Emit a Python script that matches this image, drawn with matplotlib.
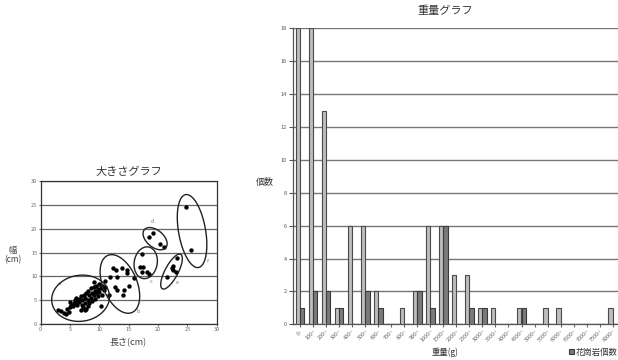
import numpy as np
import matplotlib
matplotlib.use("Agg")
import matplotlib.pyplot as plt
from matplotlib.patches import Polygon

plt.rcParams['font.family'] = ['Noto Sans CJK JP', 'DejaVu Sans']

# ---------------- data: size scatter ----------------
length_cm = [3.0, 3.5, 4.0, 4.3, 4.5, 5.0, 5.2, 5.5, 5.6, 5.8, 6.0, 6.2, 6.3, 6.5, 6.6, 6.8,
             7.0, 7.0, 7.2, 7.3, 7.5, 7.5, 7.7, 7.8, 8.0, 8.0, 8.2, 8.3, 8.5, 8.5, 8.7, 8.8,
             9.0, 9.0, 9.2, 9.3, 9.5, 9.5, 9.7, 9.8, 10.0, 10.0, 10.2, 10.5, 10.5, 10.8, 11.0,
             9.0, 6.0, 5.0, 4.8, 6.8, 7.5, 8.0,
             12.4, 12.8, 13.8, 14.7, 14.7, 13.0, 11.8, 11.0, 15.9, 12.7, 13.0, 14.2, 14.1,
             15.1, 11.6, 10.3,
             17.2, 17.0, 17.5, 18.1, 17.2, 18.4,
             18.4, 19.1, 20.3, 21.1,
             23.2, 22.5, 22.6, 23.1, 21.5, 22.4,
             24.8, 25.7]
width_cm = [3.0, 2.7, 2.3, 2.0, 3.2, 3.5, 4.0, 3.8, 4.5, 5.0, 4.2, 3.9, 4.8, 5.3, 4.6, 5.8,
            4.0, 5.0, 3.5, 6.0, 5.5, 4.5, 3.2, 6.5, 5.0, 7.0, 6.0, 4.5, 5.5, 7.5, 6.5, 4.8,
            6.0, 7.8, 5.2, 7.0, 6.5, 8.0, 5.8, 7.3, 6.8, 8.3, 7.5, 6.0, 8.0, 7.2, 7.8,
            8.8, 5.5, 4.6, 2.6, 3.0, 3.0, 3.8,
            11.7, 11.3, 11.7, 11.3, 10.6, 9.9, 9.9, 9.1, 9.6, 7.8, 7.1, 7.1, 6.1,
            8.0, 6.1, 3.8,
            14.6, 12.0, 11.9, 11.0, 11.0, 10.4,
            18.2, 19.0, 16.8, 16.2,
            13.8, 12.2, 11.3, 11.0, 9.8, 11.7,
            24.5, 15.5]
group_labels = ['a', 'b', 'c', 'd', 'e', 'f']
group_centers = [(6.8, 5.4), (13.5, 8.4), (17.9, 12.85), (19.5, 17.9), (22.3, 11.0), (25.8, 19.5)]
group_label_pos = [(3.2, 8.4), (16.7, 2.6), (18.9, 8.9), (19.1, 21.5), (23.2, 8.7), (28.4, 13.1)]

# ---------------- data: weight bars ----------------
weight_bins = ['0~', '100~', '200~', '300~', '400~', '500~', '600~', '700~', '800~', '900~',
               '1000~', '1500~', '2000~', '2500~', '3000~', '3500~', '4000~', '4500~',
               '5000~', '5500~', '6000~', '6500~', '7000~', '7500~', '8000~']
total_count = [18, 18, 13, 1, 6, 6, 2, 0, 1, 2, 6, 6, 3, 3, 1, 1, 0, 1, 0, 1, 1, 0, 0, 0, 1]
granite_count = [1, 2, 2, 1, 0, 2, 1, 0, 0, 2, 1, 6, 0, 1, 1, 0, 0, 1, 0, 0, 0, 0, 0, 0, 0]

W, H = 618, 360
fig = plt.figure(figsize=(W / 100, H / 100), dpi=100)

# ---------------- scatter ----------------
ax1 = fig.add_axes([40.7 / W, 1 - 324 / H, 176 / W, 143 / H])
ax1.set_xlim(0, 30)
ax1.set_ylim(0, 30)
ax1.set_xticks(range(0, 31, 5))
ax1.set_yticks(range(0, 31, 5))
ax1.yaxis.grid(True, color='#666666', lw=0.9)
ax1.set_axisbelow(True)
ax1.tick_params(labelsize=4, colors='#666666', length=1.5, pad=1)
for s in ax1.spines.values():
    s.set_color('#333333')
    s.set_linewidth(0.9)
ax1.scatter(length_cm, width_cm, s=10, color='black', zorder=3, linewidths=0)

# ellipses: semi-axes & angle in pixels (screen space)
ell_shapes = [(29, 23, 8), (31, 17, -67), (16, 11.5, 80), (14, 8.5, -40), (19.5, 6.5, 62), (37, 13.5, 100)]
fig.canvas.draw()
t = np.linspace(0, 2 * np.pi, 200)
for (cx, cy), (a, b, ang), lab, (lx, ly) in zip(group_centers, ell_shapes, group_labels, group_label_pos):
    px, py = ax1.transData.transform((cx, cy))
    th = np.deg2rad(ang)
    ex = a * np.cos(t)
    ey = b * np.sin(t)
    xs = px + ex * np.cos(th) - ey * np.sin(th)
    ys = py + ex * np.sin(th) + ey * np.cos(th)
    pts = ax1.transData.inverted().transform(np.column_stack([xs, ys]))
    ax1.add_patch(Polygon(pts, closed=True, fill=False, edgecolor='#222222', lw=1.0, zorder=4))
    ax1.text(lx, ly, lab, fontsize=4, color='#777777', ha='center', va='center')

ax1.set_title('大きさグラフ', fontsize=8, color='#333333', pad=4)
fig.text(128 / W, 1 - 343 / H, '長さ(cm)', fontsize=6.5, color='#444444', ha='center', va='center')
fig.text(13 / W, 1 - 255 / H, '幅\n(cm)', fontsize=6, color='#444444', ha='center', va='center',
         linespacing=1.1)

# ---------------- bars ----------------
x0_px = 300.0
step_px = 13.03
left_px = 292.7
xl = (left_px - x0_px) / step_px
xr = 24.6
ax_left = left_px / W
ax_width = (xr - xl) * step_px / W
ax2 = fig.add_axes([ax_left, 1 - 324.3 / H, ax_width, (324.3 - 28.3) / H])
x = np.arange(len(weight_bins))
bw = 0.33
ax2.bar(x - 0.17, total_count, width=bw, color='#bdbdbd', edgecolor='#4a4a4a', lw=0.8, zorder=3)
gb = ax2.bar(x + 0.17, granite_count, width=bw, color='#7a7a7a', edgecolor='#3a3a3a', lw=0.8, zorder=3)
ax2.set_xlim(xl, xr)
ax2.set_ylim(0, 18)
ax2.set_yticks(range(0, 19, 2))
ax2.yaxis.grid(True, color='#777777', lw=1.0)
ax2.set_axisbelow(True)
ax2.set_xticks(x)
ax2.set_xticklabels(weight_bins, rotation=45, ha='right', rotation_mode='anchor')
ax2.tick_params(axis='y', labelsize=4, colors='#555555', length=3, pad=1)
ax2.tick_params(axis='x', labelsize=4, colors='#666666', length=2, pad=1)
for k in ['top', 'right']:
    ax2.spines[k].set_visible(False)
for k in ['left', 'bottom']:
    ax2.spines[k].set_color('#555555')
    ax2.spines[k].set_linewidth(0.9)

fig.text(445 / W, 1 - 11 / H, '重量グラフ', fontsize=8, color='#333333', ha='center', va='center')
fig.text(265 / W, 1 - 182 / H, '個数', fontsize=6.5, color='#333333', ha='center', va='center')
fig.text(445 / W, 1 - 352 / H, '重量(g)', fontsize=6, color='#333333', ha='center', va='center')
fig.legend([gb], ['花崗岩個数'], loc='center right', bbox_to_anchor=(1.0, 1 - 352 / H),
           frameon=False, fontsize=6, handlelength=0.6, handleheight=0.6, handletextpad=0.3,
           borderpad=0, borderaxespad=0, labelcolor='#333333')

fig.savefig('out.png', dpi=100)
